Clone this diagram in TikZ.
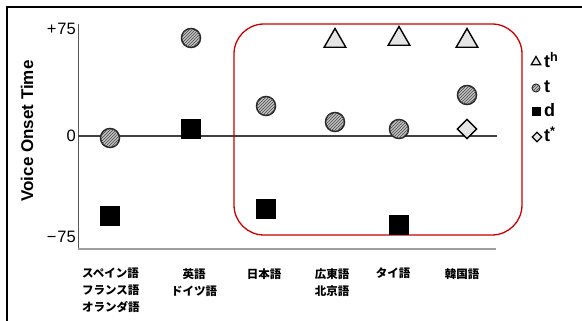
\documentclass[tikz,border=0pt]{standalone}
\usepackage{fontspec}
\setmainfont{Liberation Sans}
\newfontfamily\jp{Noto Sans CJK JP}
\usetikzlibrary{shapes.geometric,patterns}
\begin{document}
\begin{tikzpicture}[x=1pt,y=-1pt,
  dotc/.style={circle, minimum size=19pt, inner sep=0pt, draw=black!85, line width=1.5pt, fill=gray!50,
    postaction={pattern=north east lines, pattern color=black!70}},
  sqr/.style={rectangle, minimum size=19pt, inner sep=0pt, fill=black, draw=black},
  tri/.style={regular polygon, regular polygon sides=3, minimum size=25pt, inner sep=0pt, draw=black, line width=1.4pt, fill=gray!20},
  dia/.style={diamond, minimum width=20pt, minimum height=20pt, inner sep=0pt, draw=black, line width=1.4pt, fill=gray!20},
  ldotc/.style={dotc, minimum size=8pt, line width=1pt},
  lsqr/.style={sqr, minimum size=8pt},
  ltri/.style={tri, minimum size=11pt, line width=1.2pt},
  ldia/.style={dia, minimum width=10pt, minimum height=10pt, line width=1.2pt},
  tick/.style={font=\fontsize{16.5}{17}\selectfont, anchor=east, inner sep=0pt},
  leg/.style={font=\fontsize{18}{18}\selectfont\bfseries, anchor=west, inner sep=0pt},
  cat/.style={font=\jp\bfseries\fontsize{11.5}{17}\selectfont, align=left, anchor=north, inner sep=0pt},
]
\useasboundingbox (0,0) rectangle (582,321);
\fill[white] (0,0) rectangle (582,321);
% frame (top and left edges)
\coordinate (fa) at (7,321);
\coordinate (fb) at (7,7);
\coordinate (fc) at (582,7);
\draw[line width=2pt] (fa) -- (fb) -- (fc);
% axes
\coordinate (ytop) at (78,24);
\coordinate (orig) at (78,249);
\coordinate (xend) at (496,249);
\coordinate (z0) at (78,136);
\coordinate (z1) at (497,136);
\draw[gray!70!black, line width=1pt] (ytop) -- (orig);
\draw[gray!75, line width=2pt] (orig) -- (xend);
\draw[black!75, line width=2pt] (z0) -- (z1);
% ticks
\node[tick] (tp) at (76,29) {+\kern1pt75};
\node[tick] (t0) at (76,136) {0};
\node[tick] (tm) at (76,237) {\textminus\kern1pt75};
\node[rotate=90, font=\fontsize{17}{17}\selectfont\bfseries, inner sep=0pt] (ylab) at (27,131) {Voice Onset Time};
% red box
\draw[red!80!black, line width=1.3pt, rounded corners=30pt] (234,24) rectangle (522,235);
% markers
\node[dotc] (c1) at (110,138) {};
\node[sqr]  (s1) at (110,216) {};
\node[dotc] (c2) at (191,38) {};
\node[sqr]  (s2) at (191,129) {};
\node[dotc] (c3) at (266,106) {};
\node[sqr]  (s3) at (266,209) {};
\node[tri]  (r4) at (335,41) {};
\node[dotc] (c4) at (335,122) {};
\node[tri]  (r5) at (399,39) {};
\node[dotc] (c5) at (399,129) {};
\node[sqr]  (s5) at (399,225) {};
\node[tri]  (r6) at (467,41) {};
\node[dotc] (c6) at (467,95) {};
\node[dia]  (d6) at (467,129) {};
% legend
\node[ltri]  (lt) at (536,62) {};
\node[ldotc] (lc) at (536,88) {};
\node[lsqr]  (ls) at (536,111) {};
\node[ldia]  (ld) at (537,137) {};
\node[leg] (ltt) at (544,60) {t\textsuperscript{h}};
\node[leg] (lct) at (544,87) {t};
\node[leg] (lst) at (544,110) {d};
\node[leg] (ldt) at (544,134) {t\textsuperscript{*}};
% categories
\node[cat, anchor=north west] (k1) at (82,268) {スペイン語\\フランス語\\オランダ語};
\node[cat, align=center] (k2) at (194,268) {英語\\ドイツ語};
\node[cat] (k3) at (264,268) {日本語};
\node[cat] (k4) at (332,268) {広東語\\北京語};
\node[cat] (k5) at (393,268) {タイ語};
\node[cat] (k6) at (462,268) {韓国語};
\end{tikzpicture}
\end{document}
